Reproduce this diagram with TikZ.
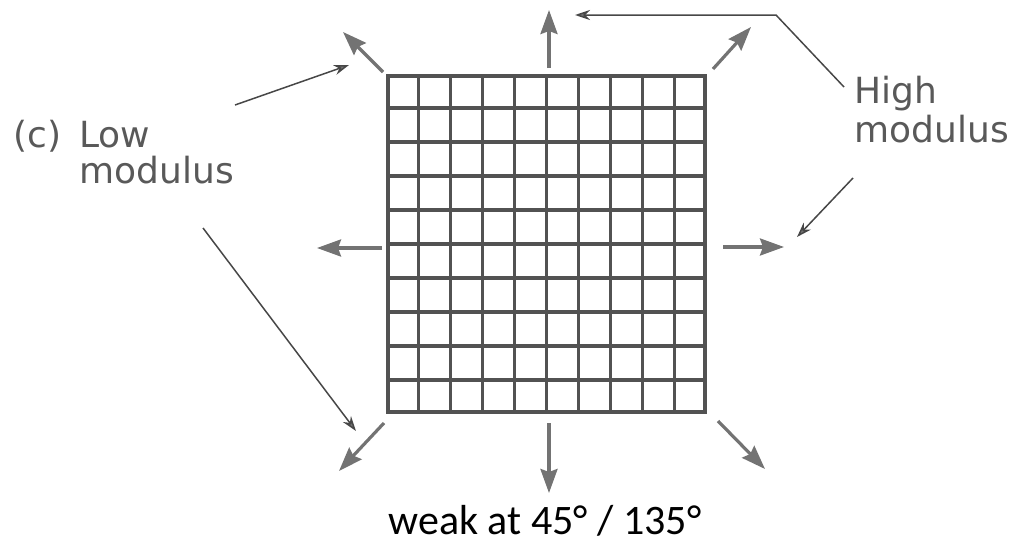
\documentclass[tikz,border=0pt]{standalone}
\usepackage{fontspec}
\newfontfamily\labelfont{DejaVu Sans}
\newfontfamily\notefont{Carlito}
\usetikzlibrary{arrows.meta, calc}
\tikzset{
    sheetbox/.style={draw=black!68, line width=1.8pt, minimum width=158.5pt, minimum height=168pt, inner sep=0pt},
    cellline/.style={draw=black!68, line width=1.7pt},
    pullarrow/.style={draw=black!55, line width=1.6pt, -{Stealth[length=12pt, width=8.5pt, inset=1.5pt, fill=black!55]}},
    leader/.style={draw=black!72, line width=0.75pt, -{Stealth[length=7.5pt, width=5pt, fill=black!55]}},
    modlabel/.style={text=black!65, inner sep=0pt, font=\labelfont\fontsize{18}{21}\selectfont},
    notelabel/.style={inner sep=0pt, font=\notefont\fontsize{21}{25}\selectfont},
}

\begin{document}
\begin{tikzpicture}[x=0.5pt, y=-0.5pt]
\useasboundingbox (0,0) rectangle (1013,546);

% sheet, 10 x 10 cells
\node[sheetbox] (sheet) at (546.5,244) {};
\foreach \i in {1,...,9} {
    \draw[cellline] ($(sheet.north west)!\i/10!(sheet.north east)$) -- ($(sheet.south west)!\i/10!(sheet.south east)$);
    \draw[cellline] ($(sheet.north west)!\i/10!(sheet.south west)$) -- ($(sheet.north east)!\i/10!(sheet.south east)$);
}

% pulls all round
\foreach \nm/\tx/\ty/\hx/\hy in {n/549/68/549/10, ne/713/69/751/27, e/723/247/784/247, se/718/421/765/469,
        s/549/423/549/493, sw/384/423/339/471, w/382/248/317/248, nw/383/72/343/32} {
    \coordinate (\nm-tail) at (\tx,\ty);
    \coordinate (\nm-tip) at (\hx,\hy);
    \draw[pullarrow] (\nm-tail) -- (\nm-tip);
}

% labels
\node[modlabel, anchor=base west] (ctag) at (13,147) {(c)};
\node[modlabel, anchor=base west] (lowtop) at (79,147) {Low};
\node[modlabel, anchor=base west] (lowbot) at (79,183) {modulus};
\node[modlabel, anchor=base west] (hightop) at (854,103) {High};
\node[modlabel, anchor=base west] (highbot) at (854,142) {modulus};
\node[notelabel, anchor=base] (note) at (545,534) {weak at 45° / 135°};

% leaders
\coordinate (low-a) at (235,105);
\coordinate (low-a-end) at (349,65);
\coordinate (low-b) at (203,228);
\coordinate (low-b-end) at (356,431);
\coordinate (high-a) at (844,87);
\coordinate (high-a-bend) at (776,15);
\coordinate (high-a-end) at (575,15);
\coordinate (high-b) at (853,178);
\coordinate (high-b-end) at (797,237);
\draw[leader] (low-a) -- (low-a-end);
\draw[leader] (low-b) -- (low-b-end);
\draw[leader] (high-a) -- (high-a-bend) -- (high-a-end);
\draw[leader] (high-b) -- (high-b-end);
\end{tikzpicture}
\end{document}
